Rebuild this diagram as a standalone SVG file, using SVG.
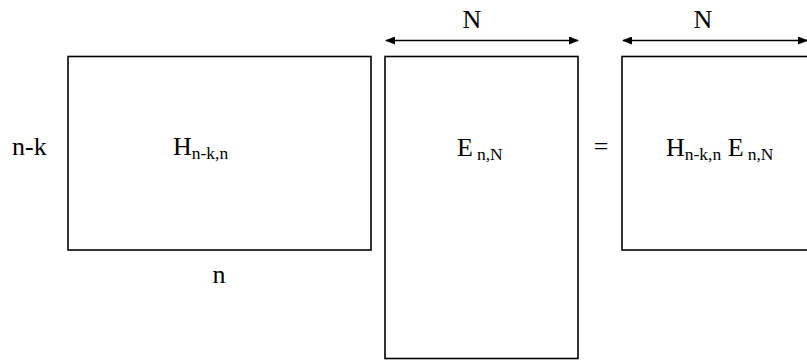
<svg xmlns="http://www.w3.org/2000/svg" width="807" height="360" viewBox="0 0 807 360">
<style>
.box{fill:#fff;stroke:#000;stroke-width:1.6}
.t{font-family:"Liberation Serif","Times New Roman",serif;font-size:26px;fill:#000}
.s{font-size:17.5px}
.conn{stroke:#000;stroke-width:1.6;fill:none}
</style>
<defs>
<marker id="ah" markerWidth="10" markerHeight="8" refX="9" refY="4" orient="auto-start-reverse" markerUnits="userSpaceOnUse">
<path d="M0,0 L10,4 L0,8 z" fill="#000"/>
</marker>
</defs>
<rect width="807" height="360" fill="#fff"/>
<g id="H">
<rect class="box" x="68" y="56.5" width="303" height="193.5"/>
<text class="t" x="173" y="155">H<tspan class="s" dy="4">n-k,n</tspan></text>
</g>
<g id="E">
<rect class="box" x="385" y="56.5" width="193" height="302"/>
<text class="t" x="457" y="156">E<tspan class="s" dx="4" dy="4">n,N</tspan></text>
</g>
<g id="R">
<rect class="box" x="622" y="56.5" width="200" height="193.5"/>
<text class="t" x="666" y="156">H<tspan class="s" dy="4">n-k,n</tspan><tspan dy="-4"> E</tspan><tspan class="s" dx="4" dy="4">n,N</tspan></text>
</g>
<g id="labels">
<text class="t" x="12" y="155">n-k</text>
<text class="t" x="219" y="283" text-anchor="middle">n</text>
<text class="t" x="472" y="28" text-anchor="middle">N</text>
<text class="t" x="703" y="28" text-anchor="middle">N</text>
<text class="t" x="601" y="155" text-anchor="middle">=</text>
</g>
<g id="connectors">
<line class="conn" x1="386" y1="40.5" x2="578" y2="40.5" marker-start="url(#ah)" marker-end="url(#ah)"/>
<line class="conn" x1="623" y1="40.5" x2="807" y2="40.5" marker-start="url(#ah)" marker-end="url(#ah)"/>
</g>
</svg>
